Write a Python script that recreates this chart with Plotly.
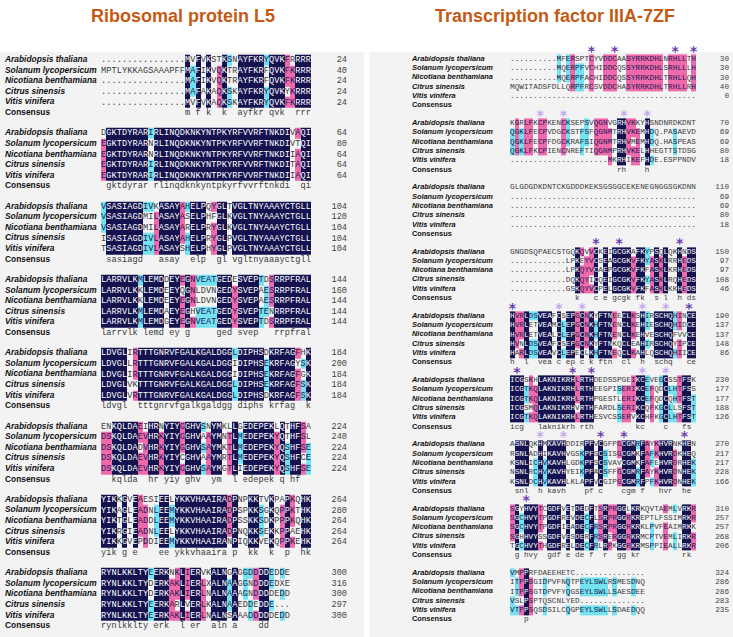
import plotly.graph_objects as go

species = ["Arabidopsis thaliana", "Solanum lycopersicum", "Nicotiana benthamiana",
           "Citrus sinensis", "Vitis vinifera"]

# Ribosomal protein L5 alignment, 40 columns per block
l5_blocks = [
    ["................MVFVKSTKSNAYFKRYQVKFRRRR",
     "MPTLYKKAGSAAAPFFMAFIKVQKTRAYFKRFQVKFKRRR",
     "................MAFIKVQKTRAYFKRFQVKFKRRR",
     "................MAFAKAQKSKAYFKRYQVKYKRRR",
     "................MVFVKAQKSKAYFKRYQVKFKRRR"],
    ["DGKTDYRARIRLINQDKNKYNTPKYRFVVRFTNKDIVAQI",
     "EGKTDYRARNRLINQDKNKYNTPKYRFVVRFTNKDIVTQI",
     "EGKTDYRARNRLINQDKNKYNTPKYRFVVRFTNKDIIAQI",
     "EGKTDYRARIRLINQDKNKYNTPKYRFVVRFTNKDITAQI",
     "EGKTDYRARIRLINQDKNKYNTPKYRFVVRFTNKDIIAQI"],
    ["VSASIAGDIVKASAYAHELPQYGLTVGLTNYAAAYCTGLL",
     "VSASIAGDMILASAYASELPHFGLKVGLTNYAAAYCTGLL",
     "VSASIAGDMILASAYARELPRYGLKVGLTNYAAAYCTGLL",
     "ISASIAGDIVLASAYAHELPRYGLPVGLTNYAAAYCTGLL",
     "TSASIAGDIVLASAYSHELPHYGLPVGLTNYAAAYCTGLL"],
    ["LARRVLKMLEMDDEYEGNVEATGEDESVEPTDSRRPFRAL",
     "LARRVLKKLEMDEEYQGNLDVNGEDYSVEPAESRRPFRAL",
     "LARRVLKKLEMDEEYEGNLDVNGEDYSVEPAESRRPFRAL",
     "LARRVLKMLEMDAEYEGHVEATGEDYSVEPTENRRPFRAL",
     "LARRVLKMLEMDGEYEGNVEATGEDYSVEPTDSRRPFRAL"],
    ["LDVGLIRTTTGNRVFGALKGALDGGLDIPHSDKRFAGFHK",
     "LDVGLLRTTTGNRVFGALKGALDGGIDIPHSEKRFAGYSK",
     "LDVGLIRTTTGNRVFGALKGALDGGIDIPHSEKRFAGFGK",
     "LDVGLVKTTTGNRVFGALKGALDGGLDIPHSEKRFAGFSK",
     "LDVGLVRTTTGNRVFGALKGALDGGLDIPHSDKRFAGFSK"],
    ["ENKQLDAEIHRNYIYGGHVSNYMKLLGEDEPEKLQTHFSA",
     "DSKQLDAEVHRKYIYGGHVAAYMNTLMEDEPEKYQTHFSL",
     "DSKQLDADVHRKYIYGGHVSAYMKTLMEDEPEKYQSHFSE",
     "DSKQLDAEVHRKYIYCGHVAAYMRTLMEDEPEKYQSHFCE",
     "DSKQLDAEVHRKYIYGGHVSAYMGTLIEDEPEKYQSHFSE"],
    ["YIKKGVEAESIEELYKKVHAAIRADPNPKKTVKPAPKQHK",
     "YIKAGLEADNLEEMYKKVHAAIRADPSPKKSGKQPPKTHK",
     "YIKTGLEADDLEEMYKKVHAAIRADPSSKKSDKPPPKQHK",
     "YIKRGIEADNLEELYKKVHAAIRADPNQKKSEKKPPAEHK",
     "YIKKGVEPDDIEEMYKKVHAAIRANPIQKKVEKQPPKEHK"],
    ["RYNLKKLTYEERKNKLIERVKALNGAGGDDDDEDDE",
     "RYNLKKLTYDERKAKLIERLXALNAAGGNDDDEDXE",
     "RYNLKKLTYDERKAKLIERLNALNAAAGNDDDDEDD",
     "RYNLKKLTYEERKARLVERLKALNAAEDDEDDE...",
     "RYNLKKLTYEERKAKLIERLNALNSAAADDDDDEDD"],
]
l5_ends = [[24, 40, 24, 24, 24], [64, 80, 64, 64, 64], [104, 120, 104, 104, 104],
           [144, 160, 144, 144, 144], [184, 200, 184, 184, 184], [224, 240, 224, 224, 224],
           [264, 280, 264, 264, 264], [300, 316, 300, 297, 300]]

# Transcription factor IIIA-7ZF alignment
tf_blocks = [
    ["..........MFERSPTCYVDDCAASYRRKDHLNRHLLTH",
     "..........MQERPFVCHIDDCQSSYRRKDHLSRHLLLH",
     "..........MQERPFACHIDDCQSSYRRKDHLTRHLLQH",
     "MQWITADSFDLLQRPFRCSVDDCHASYRRKDHLTRHLLRH",
     "........................................"],
    ["KGRLFKCPKENCKSEPSVQGNVGRHVKKYHSNDNRDKDNT",
     "QGKLFECPVDGCKSTFSFQGNMTRHVKEMHDQ.PASAEVD",
     "QGKLFECPFDGCKRAFSIQGNMTRHVMEMHDQ.HASPEAS",
     "QGKLFKCPIENCNREFTIQGNMPRHVKELHHEGTTSTDSG",
     ".....................MKRHIKEFHDE.ESPPNDV"],
    ["GLGDGDKDNTCKGDDDKEKSGSGGCEKENEGNGGSGKDNN",
     "........................................",
     "........................................",
     "........................................",
     "........................................"],
    ["GNGDSQPAECSTGQKQVVCKEIGCGKAFKYPSQLQKHNDS",
     "............LPKEYVCSEAGCGKVFKYASKLRRHEDS",
     "............LPKQYVCAEPGCGKVFKFASKLKRHEDS",
     "............DQKQYICQEIGCGKVFKYASKLRQHEDS",
     "............GSKQYVCPELGCGKVFKFASKLKKHEDS"],
    ["HVRLDSVEAFCSEPGCNKYFTNEECLKSHIRSCHQHINCE",
     "HVRLETVEAMCLEPGCNKHFTNENCLKEHIESCHQHIDCE",
     "HVRLETVEALCLEPGCNKHFTNENCLKEHVESCHQFVVCE",
     "HVNLDSVEAFCSEPGCNKYFTNKQCLEAHIRSCHQYIPCE",
     "HARLDSVEAVCLEPECLKHFTNEQCLKAHLQSCHQHIICE"],
    ["ICGSKHLAKNIKRHLRTHDEDSSPGEIKCEVEGCSSTFSK",
     "ICGTKQLAKNIKRHLRTHEEGPISERIKCEFQDCLHTFSS",
     "ICGTKQLAKNIKRHLRTHPGESTLERIKCEFQDCQHTFST",
     "ICGSMQLAKNIKRHVRTHFARDLSERIKCQFKGCLLSFST",
     "ICGTKQLAKNIKRHLRTHESVCSSERVKCHFKGCLHTFST"],
    ["ASNLQKHMKAVHDDIRPFVCGFPGCGMRFAYKHVRNKHEN",
     "RSNLADHIKAVHVGSKPFSCSISGCGMKFAFKHVRDKHEQ",
     "KSNLICHVKAVHLGDKPFSCSVAVCGMKFAFEHVRDRHEK",
     "NSNLRCHVKAVHYEIKPFACSFFGCGMRFAYKHVRDNHEK",
     "KSNLDCHVKAVHLKLAPFVCGIPGCGMRFPFKHVRDNHEK"],
    ["SGYHVYTCGDFVETDEDFTSRPRGGLKRKQVTAEMLVRKR",
     "SGCHVYTPGDFREVDECFLSRPRGGRKREPTLFSSIMRKR",
     "SGCHVYTPGDFIEADECFRSRPRGGRKRKLPVFEAIMRKK",
     "SGHHVYSSGDFVESDERFRSRERGGRKRMCPTVEMLIRKR",
     "TGCHVYTHGDFRELDECFRLRPKGGRKRMSPPIEALLRKR"],
    ["VMPPRFDAEEHETC...............",
     "ITPPSGIDPVFNQTPEYLSWLRSMESDNQ",
     "ITPPSGTDPVFYQGSEYLSWLLSAESDEE",
     "VSLPSPTQSCNLYED..............",
     "VTPPSQSDSILCQGPEYLSWLLSDAEDQQ"],
]
tf_ends = [[30, 30, 30, 40, 0], [70, 69, 69, 80, 18], [110, 69, 69, 80, 18],
           [150, 97, 97, 108, 46], [190, 137, 137, 148, 86], [230, 177, 177, 188, 126],
           [270, 217, 217, 228, 166], [310, 257, 257, 268, 206], [324, 286, 286, 283, 235]]

# zinc finger C/H positions marked above the blocks (column numbers)
tf_stars_dark = [[18, 23, 36, 40], [], [], [19, 24, 37], [1, 39], [2, 14, 18],
                 [20, 25, 38], [4], []]
tf_stars_light = [[], [7, 12, 25, 30], [], [], [11, 16, 29, 34], [29, 34],
                  [7, 12], [], []]

NAVY = "#14124f"
PINK = "#ee6aab"
CYAN = "#72e3ef"
MONO = "Liberation Mono, Courier New, monospace"
SANS = "Liberation Sans, Arial, sans-serif"

left = dict(x0=101, cw=5.25, y0=60, rh=10.6, pitch=73.3, name_x=5, num_x=347,
            seq_size=8.6, name_size=8.4, bg=(0, 364))
right = dict(x0=510, cw=4.65, y0=59, rh=9.3, pitch=64.25, name_x=412, num_x=729,
             seq_size=7.7, name_size=7.4, bg=(369, 733))


def conservation(block):
    n = len(block[0])
    cls = [[0] * n for _ in block]
    cons = []
    for j in range(n):
        col = [s[j] for s in block]
        res = [c for c in col if c not in ".-"]
        if not res:
            cons.append(" ")
            continue
        top = max(sorted(set(res)), key=res.count)
        k = res.count(top)
        level = {5: 3, 4: 2, 3: 1}.get(k, 0)
        for i, c in enumerate(col):
            if c == top:
                cls[i][j] = level
        cons.append(top.lower() if k == 5 else " ")
    return cls, cons


fig = go.Figure()


def add_panel(blocks, ends, g, dark=None, light=None):
    ncols = max(len(b[0]) for b in blocks)
    rows = []
    txt = {"white": ([], [], []), "dark": ([], [], []), "plain": ([], [], [])}
    names = ([], [], [])
    nums = ([], [], [])
    stars = {"d": ([], []), "l": ([], [])}
    for b, block in enumerate(blocks):
        cls, cons = conservation(block)
        ya = g["y0"] + b * g["pitch"]
        for r, seq in enumerate(block):
            y = ya + r * g["rh"]
            rows.append((y - g["rh"] / 2, y + g["rh"] / 2,
                         [v if v else None for v in cls[r]] + [None] * (ncols - len(seq))))
            for j, c in enumerate(seq):
                x = g["x0"] + (j + 0.5) * g["cw"]
                key = "white" if cls[r][j] == 3 else ("dark" if cls[r][j] else "plain")
                txt[key][0].append(x)
                txt[key][1].append(y)
                txt[key][2].append(c)
            names[0].append(g["name_x"]); names[1].append(y)
            names[2].append("<b><i>%s</i></b>" % species[r])
            nums[0].append(g["num_x"]); nums[1].append(y); nums[2].append(str(ends[b][r]))
        yc = ya + 5 * g["rh"]
        names[0].append(g["name_x"]); names[1].append(yc); names[2].append("<b>Consensus</b>")
        for j, c in enumerate(cons):
            if c != " ":
                txt["plain"][0].append(g["x0"] + (j + 0.5) * g["cw"])
                txt["plain"][1].append(yc)
                txt["plain"][2].append(c)
        for key, lst in (("d", dark), ("l", light)):
            if lst:
                for col in lst[b]:
                    stars[key][0].append(g["x0"] + (col - 0.5) * g["cw"])
                    stars[key][1].append(ya - g["rh"] * 1.05)

    edges = [rows[0][0]]
    z = []
    for t, bot, zr in rows:
        if t > edges[-1] + 0.01:
            z.append([None] * ncols)
            edges.append(t)
        z.append(zr)
        edges.append(bot)
    xedges = [g["x0"] + k * g["cw"] for k in range(ncols + 1)]
    fig.add_trace(go.Heatmap(
        x=xedges, y=edges, z=z, zmin=0.5, zmax=3.5, showscale=False, hoverinfo="skip",
        colorscale=[[0, CYAN], [1 / 3, CYAN], [1 / 3, PINK], [2 / 3, PINK],
                    [2 / 3, NAVY], [1, NAVY]]))

    colors = {"white": "#ffffff", "dark": "#1c1a55", "plain": "#3a3a3a"}
    for key, (xs, ys, ts) in txt.items():
        fig.add_trace(go.Scatter(x=xs, y=ys, text=ts, mode="text", hoverinfo="skip",
                                 textfont=dict(family=MONO, size=g["seq_size"],
                                               color=colors[key])))
    fig.add_trace(go.Scatter(x=names[0], y=names[1], text=names[2], mode="text",
                             textposition="middle right", hoverinfo="skip",
                             textfont=dict(family=SANS, size=g["name_size"], color="#111111")))
    fig.add_trace(go.Scatter(x=nums[0], y=nums[1], text=nums[2], mode="text",
                             textposition="middle left", hoverinfo="skip",
                             textfont=dict(family=MONO, size=g["seq_size"], color="#444444")))
    for key, color in (("d", "#6a3db0"), ("l", "#c4a6f2")):
        if stars[key][0]:
            fig.add_trace(go.Scatter(x=stars[key][0], y=[v + 3 for v in stars[key][1]],
                                     text=["*"] * len(stars[key][0]), mode="text",
                                     hoverinfo="skip",
                                     textfont=dict(family="DejaVu Sans", size=14,
                                                   color=color, weight="bold")))
    fig.add_shape(type="rect", x0=g["bg"][0], x1=g["bg"][1], y0=52, y1=637,
                  fillcolor="#f3f3f3", line=dict(width=0), layer="below")


add_panel(l5_blocks, l5_ends, left)
add_panel(tf_blocks, tf_ends, right, tf_stars_dark, tf_stars_light)

for text, xc in (("Ribosomal protein L5", 183), ("Transcription factor IIIA-7ZF", 555)):
    fig.add_annotation(x=xc, y=16, text="<b>%s</b>" % text, showarrow=False,
                       font=dict(family="Liberation Sans Narrow, Arial Narrow, " + SANS,
                                 size=18, color="#c55a14"))

fig.update_layout(
    width=733, height=637, margin=dict(l=0, r=0, t=0, b=0),
    paper_bgcolor="white", plot_bgcolor="white", showlegend=False,
    xaxis=dict(range=[0, 733], visible=False, fixedrange=True),
    yaxis=dict(range=[637, 0], visible=False, fixedrange=True),
)

fig.write_html("out.html", config={"displayModeBar": False},
               post_script="document.body.style.margin='0';")
